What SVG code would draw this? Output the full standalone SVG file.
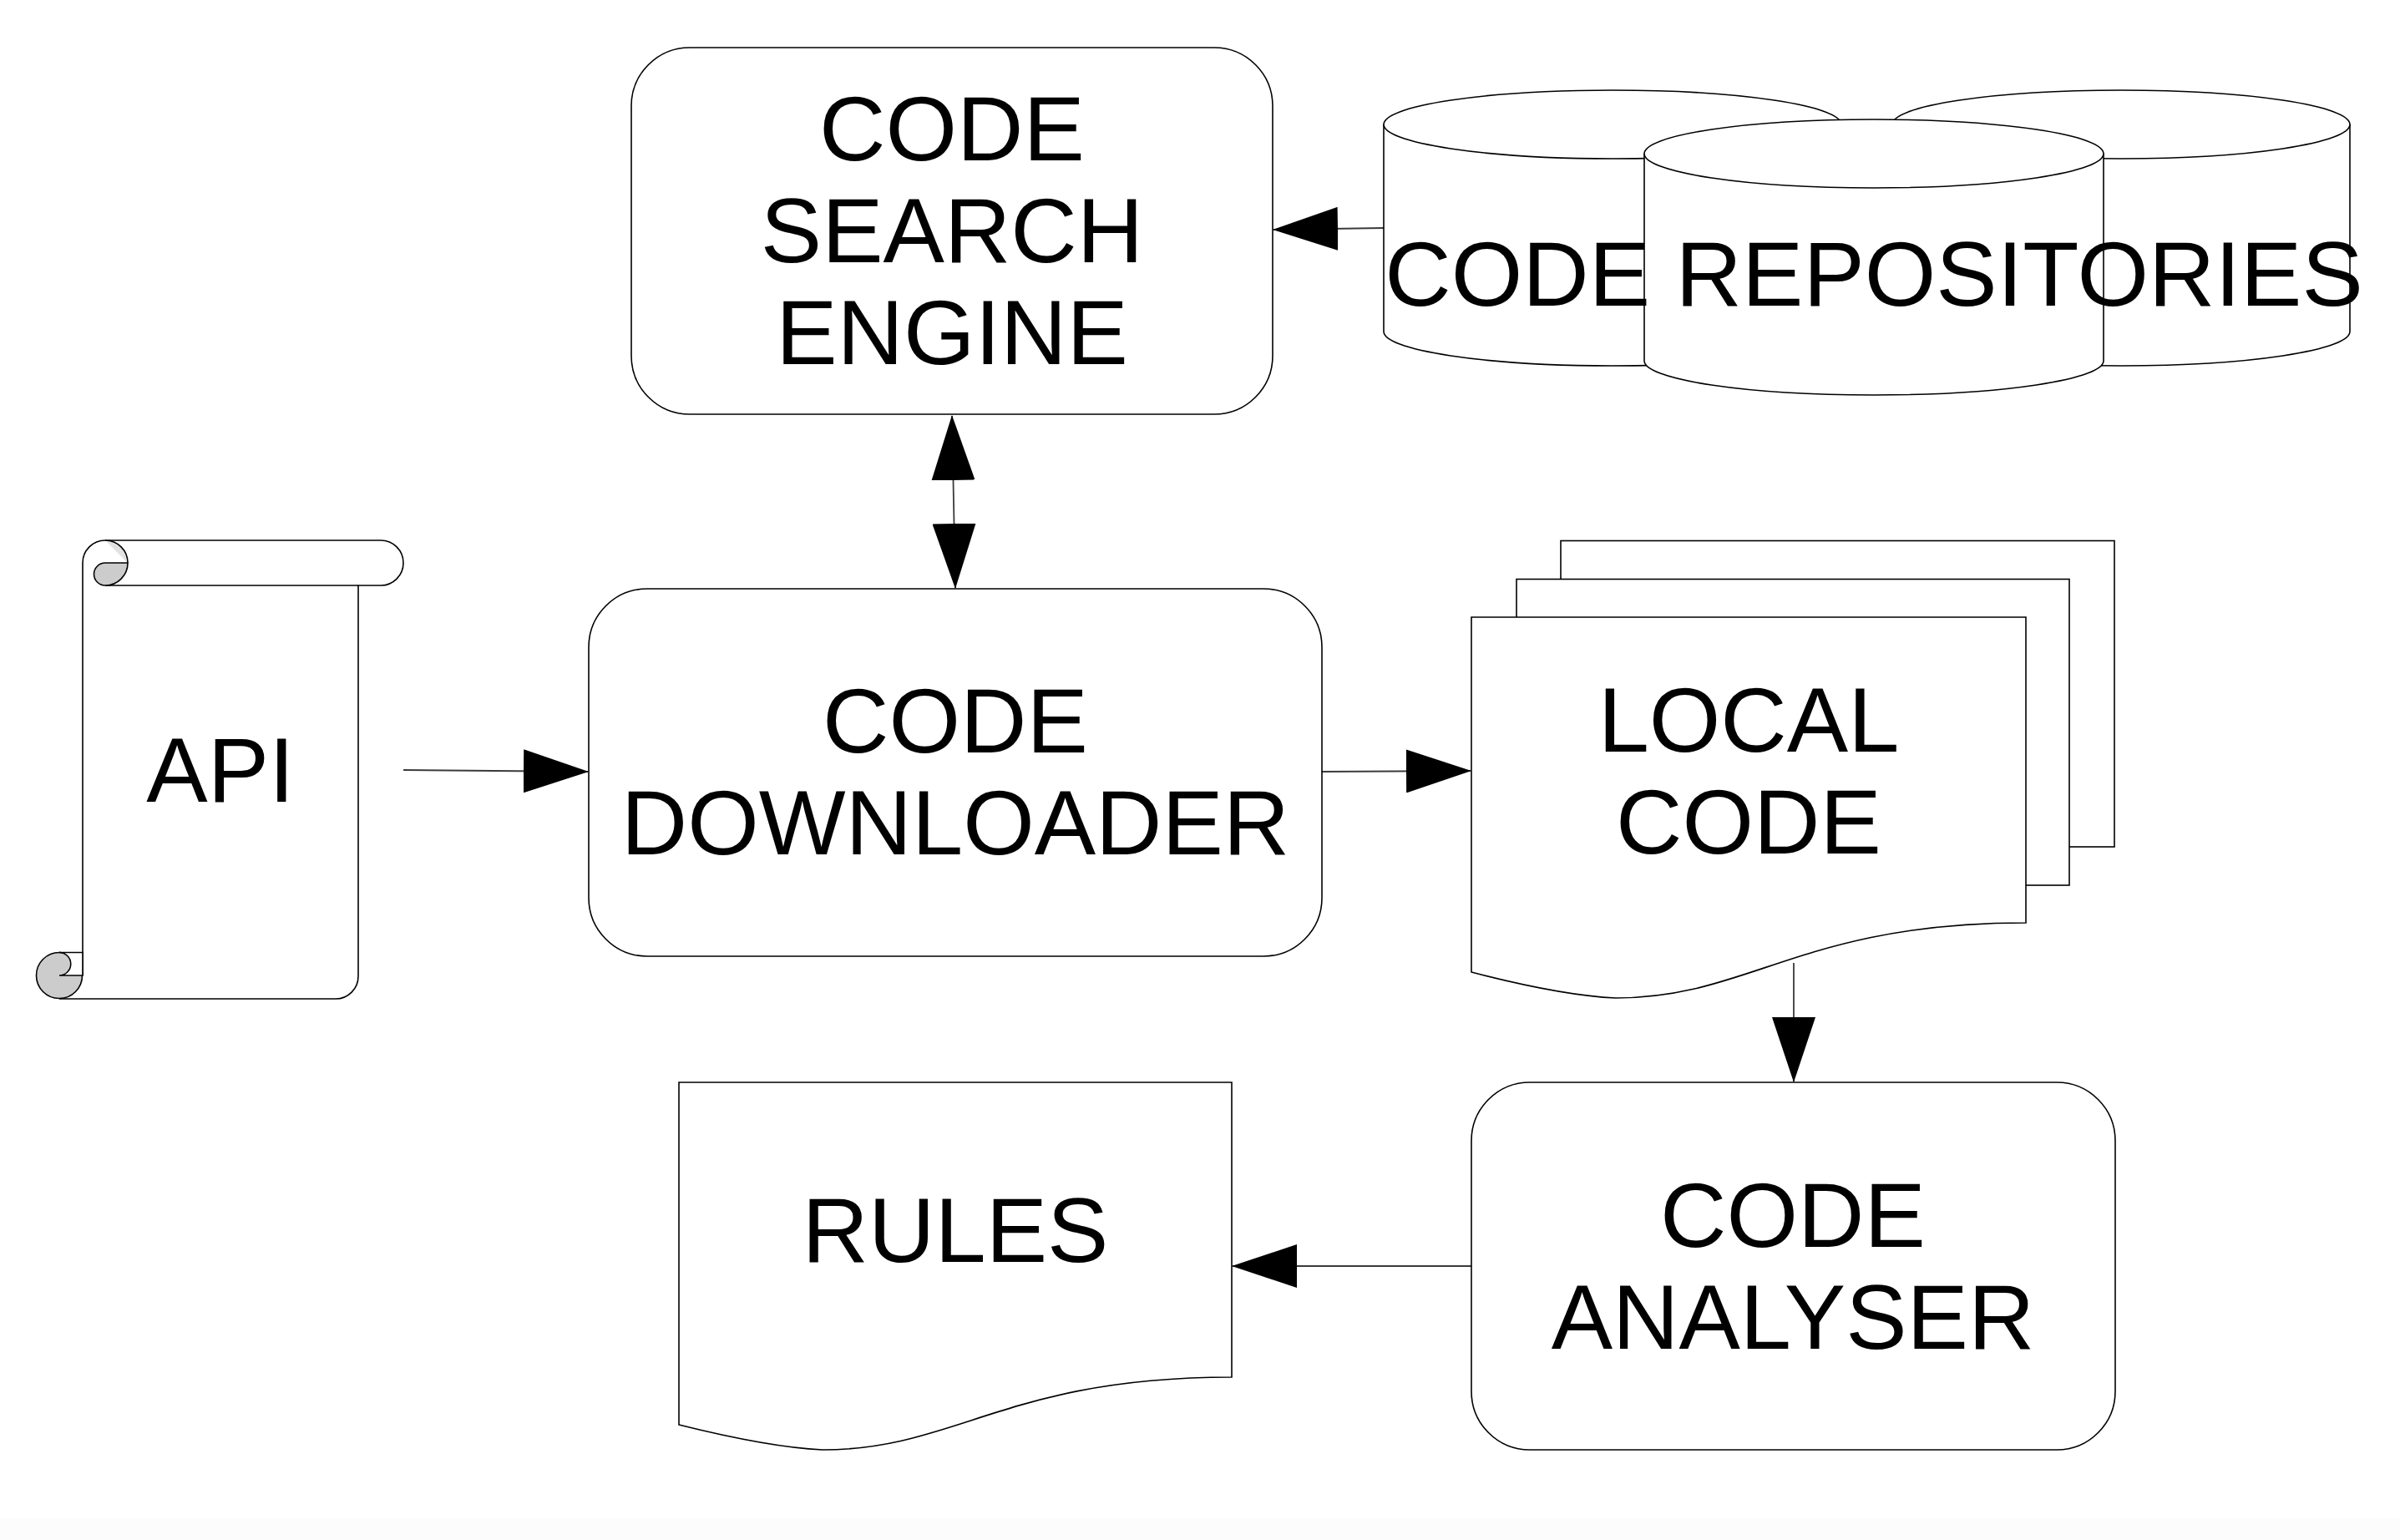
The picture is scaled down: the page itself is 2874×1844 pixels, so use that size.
<svg xmlns="http://www.w3.org/2000/svg" width="2874" height="1844" viewBox="0 0 2874 1844">
<style>
.shape{fill:#fff;stroke:#000;stroke-width:1.6}
.conn{fill:none;stroke:#3a3a3a;stroke-width:1.8}
.lbl{font-family:"Liberation Sans",Arial,sans-serif;font-size:110px;fill:#000;text-anchor:middle}
.curl{fill:#cccccc;stroke:#000;stroke-width:1.6}
</style>
<defs>
<marker id="ah" markerUnits="userSpaceOnUse" viewBox="0 0 78 52" markerWidth="78" markerHeight="52" refX="77" refY="26" orient="auto-start-reverse">
<path d="M0,0 L78,26 L0,52 z" fill="#000"/>
</marker>
</defs>
<rect x="0" y="0" width="2874" height="1844" fill="#fff"/>
<rect x="0" y="1818" width="2874" height="26" fill="#fcfcfc"/>

<g id="connectors">
<line class="conn" x1="1657" y1="273" x2="1525" y2="275" marker-end="url(#ah)"/>
<line class="conn" x1="1140" y1="498" x2="1144" y2="704" marker-start="url(#ah)" marker-end="url(#ah)"/>
<line class="conn" x1="483" y1="922" x2="704" y2="924" marker-end="url(#ah)"/>
<line class="conn" x1="1583" y1="924" x2="1761" y2="923" marker-end="url(#ah)"/>
<line class="conn" x1="2148" y1="1153" x2="2148" y2="1295" marker-end="url(#ah)"/>
<line class="conn" x1="1762" y1="1516" x2="1476" y2="1516" marker-end="url(#ah)"/>
</g>

<g id="code-search-engine">
<rect class="shape" x="756" y="57" width="768" height="439" rx="70" ry="70"/>
<text class="lbl" x="1140" y="192">CODE</text>
<text class="lbl" x="1140" y="314">SEARCH</text>
<text class="lbl" x="1140" y="436">ENGINE</text>
</g>

<g id="code-repositories">
<path class="shape" d="M1657,149 V397 A274,41 0 0 0 2205,397 V149"/>
<ellipse class="shape" cx="1931" cy="149" rx="274" ry="41"/>
<path class="shape" d="M2266,149 V397 A274,41 0 0 0 2814,397 V149"/>
<ellipse class="shape" cx="2540" cy="149" rx="274" ry="41"/>
<path class="shape" d="M1969,184 V432 A275,41 0 0 0 2519,432 V184"/>
<ellipse class="shape" cx="2244" cy="184" rx="275" ry="41"/>
<text class="lbl" x="2244" y="366">CODE REPOSITORIES</text>
</g>

<g id="api">
<path class="shape" d="M99,1168 V674 A27,27 0 0 1 126,647 H456 A27,27 0 0 1 456,701 H429 V1169 A27,27 0 0 1 402,1196 H71"/>
<line x1="126" y1="701" x2="429" y2="701" stroke="#000" stroke-width="1.6"/>
<path class="curl" d="M153,674 A27,27 0 0 1 126,701 A13.5,13.5 0 0 1 126,674 Z"/>
<path d="M126,647 A27,27 0 0 1 153,674 Z" fill="#e2e2e2" stroke="none"/>
<path d="M126,647 A27,27 0 0 1 153,674" fill="none" stroke="#000" stroke-width="1.6"/>
<circle class="curl" cx="71" cy="1168" r="27.5"/>
<path class="shape" d="M71,1140.5 H99 V1168 H71 A13.75,13.75 0 0 0 71,1140.5 Z"/>
<text class="lbl" x="264" y="960">API</text>
</g>

<g id="code-downloader">
<rect class="shape" x="705" y="705" width="878" height="440" rx="70" ry="70"/>
<text class="lbl" x="1144" y="901">CODE</text>
<text class="lbl" x="1144" y="1023">DOWNLOADER</text>
</g>

<g id="local-code">
<rect class="shape" x="1869" y="647.5" width="663" height="366.5"/>
<rect class="shape" x="1816" y="693.5" width="662" height="366.5"/>
<path class="shape" d="M1762,739 H2426 V1105 C2156,1105 2096,1195 1935,1195 Q1870,1192 1762,1164 Z"/>
<text class="lbl" x="2094" y="900">LOCAL</text>
<text class="lbl" x="2094" y="1022">CODE</text>
</g>

<g id="code-analyser">
<rect class="shape" x="1762" y="1296" width="771" height="440" rx="70" ry="70"/>
<text class="lbl" x="2147" y="1493">CODE</text>
<text class="lbl" x="2147" y="1615">ANALYSER</text>
</g>

<g id="rules">
<path class="shape" d="M813,1296 H1475 V1649 C1205,1649 1145,1736 985,1736 Q921,1733 813,1706 Z"/>
<text class="lbl" x="1144" y="1511">RULES</text>
</g>
</svg>
